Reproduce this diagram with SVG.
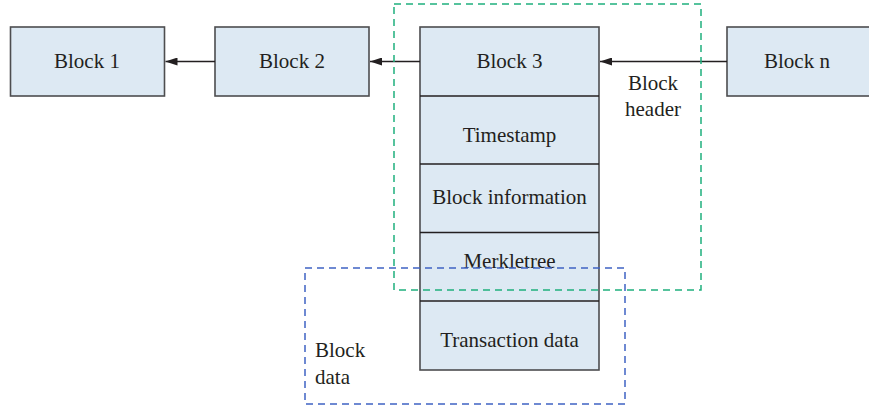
<svg xmlns="http://www.w3.org/2000/svg" width="869" height="411" viewBox="0 0 869 411">
  <defs>
    <marker id="arrow" markerWidth="12" markerHeight="8" refX="12" refY="4" orient="auto" markerUnits="userSpaceOnUse">
      <path d="M0,0 L12,4 L0,8 Z" fill="#231f20"/>
    </marker>
    <style>
      .box { fill: #dde9f3; stroke: #4d4d4f; stroke-width: 1.6; }
      .sep { stroke: #231f20; stroke-width: 1.3; }
      text { font-family: 'Liberation Serif', 'Times New Roman', Times, serif; font-size: 21px; fill: #231f20; }
      .lbl { text-anchor: middle; }
      .link { stroke: #231f20; stroke-width: 1.4; fill: none; marker-end: url(#arrow); }
      .header { fill: none; stroke: #1fb07e; stroke-width: 1.5; stroke-dasharray: 7 5; }
      .data { fill: none; stroke: #3f63c4; stroke-width: 1.5; stroke-dasharray: 7 5; }
    </style>
  </defs>
  <rect width="869" height="411" fill="#ffffff"/>

  <g id="block1">
    <rect class="box" x="10.5" y="27" width="154" height="69"/>
    <text class="lbl" x="87" y="68">Block 1</text>
  </g>

  <g id="block2">
    <rect class="box" x="215" y="27" width="154" height="69"/>
    <text class="lbl" x="292" y="68">Block 2</text>
  </g>

  <g id="block3">
    <rect class="box" x="420" y="27" width="179" height="343"/>
    <line class="sep" x1="420" y1="96" x2="599" y2="96"/>
    <line class="sep" x1="420" y1="164" x2="599" y2="164"/>
    <line class="sep" x1="420" y1="232.5" x2="599" y2="232.5"/>
    <line class="sep" x1="420" y1="301" x2="599" y2="301"/>
    <text class="lbl" x="509.5" y="68">Block 3</text>
    <text class="lbl" x="509.5" y="142">Timestamp</text>
    <text class="lbl" x="509.5" y="204">Block information</text>
    <text class="lbl" x="509.5" y="268">Merkletree</text>
    <text class="lbl" x="509.5" y="347">Transaction data</text>
  </g>

  <g id="blockn">
    <rect class="box" x="727" y="27" width="150" height="69"/>
    <text class="lbl" x="797" y="68">Block n</text>
  </g>

  <g id="connectors">
    <line class="link" x1="215" y1="61.5" x2="165.5" y2="61.5"/>
    <line class="link" x1="420" y1="61.5" x2="370" y2="61.5"/>
    <line class="link" x1="727" y1="61.5" x2="600" y2="61.5"/>
  </g>

  <g id="block-header">
    <rect class="header" x="394" y="4" width="307" height="286"/>
    <text class="lbl" x="653" y="90">Block</text>
    <text class="lbl" x="653" y="116">header</text>
  </g>

  <g id="block-data">
    <rect class="data" x="305" y="268" width="320" height="136"/>
    <text x="315" y="357">Block</text>
    <text x="315" y="384">data</text>
  </g>
</svg>
